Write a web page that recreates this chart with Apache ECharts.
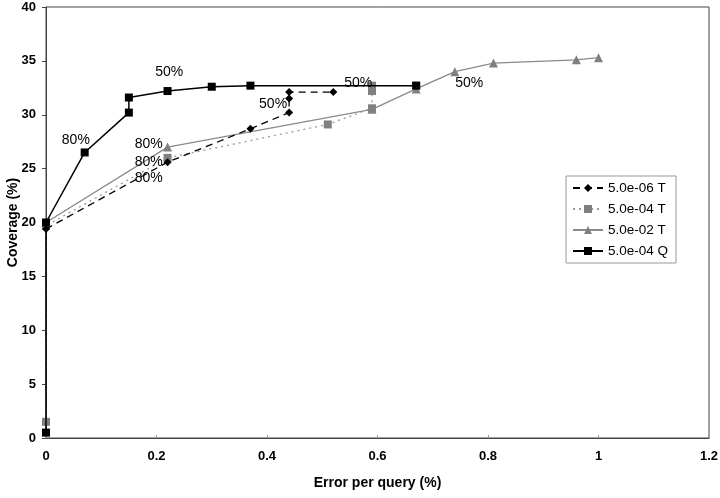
<!DOCTYPE html>
<html><head><meta charset="utf-8">
<script src="https://cdn.jsdelivr.net/npm/echarts@6/dist/echarts.min.js"></script>
<style>html,body{margin:0;padding:0;background:#fff}#c{width:720px;height:498px}</style>
</head><body><div id="c"></div>
<script>
const seriesNames = ["5.0e-06 T", "5.0e-04 T", "5.0e-02 T", "5.0e-04 Q"];
const s06T_x = [0, 0.22, 0.37, 0.44, 0.44, 0.44, 0.52];
const s06T_y = [19.4, 25.6, 28.7, 30.2, 31.5, 32.1, 32.1];
const s04T_x = [0, 0, 0.22, 0.51, 0.59, 0.59, 0.59, 0.67];
const s04T_y = [1.5, 19.7, 26.0, 29.1, 30.6, 32.2, 32.7, 32.7];
const s02T_x = [0, 0.22, 0.59, 0.67, 0.74, 0.81, 0.96, 1.0];
const s02T_y = [20.0, 27.0, 30.5, 32.4, 34.0, 34.8, 35.1, 35.3];
const s04Q_x = [0, 0, 0.07, 0.15, 0.15, 0.22, 0.30, 0.37, 0.67];
const s04Q_y = [0.5, 20.0, 26.5, 30.2, 31.6, 32.2, 32.6, 32.7, 32.7];
const annText = ["80%", "50%", "80%", "80%", "80%", "50%", "50%", "50%"];
const annX = [0.054, 0.223, 0.186, 0.186, 0.186, 0.411, 0.565, 0.766];
const annY = [27.6, 34.0, 27.3, 25.6, 24.1, 31.0, 32.9, 32.9];
const xTicks = {min: 0, max: 1.2, interval: 0.2};
const yTicks = {min: 0, max: 40, interval: 5};

const zip = (xs, ys) => xs.map((x, i) => [x, ys[i]]);
const font = "Liberation Sans, Arial, sans-serif";
const chart = echarts.init(document.getElementById('c'));
chart.setOption({
  animation: false,
  backgroundColor: '#fff',
  grid: {left: 46, right: 11, top: 7, bottom: 60, containLabel: false, outerBoundsMode: 'none',
         show: true, borderColor: '#444', borderWidth: 1},
  legend: {
    orient: 'vertical', left: 566, top: 176,
    data: seriesNames,
    itemWidth: 30, itemHeight: 10, itemGap: 7,
    padding: [5, 8, 5, 6],
    borderColor: '#999', borderWidth: 1, backgroundColor: '#fff',
    textStyle: {fontFamily: font, fontSize: 13.5, color: '#000'}
  },
  xAxis: {
    type: 'value', min: xTicks.min, max: xTicks.max, interval: xTicks.interval,
    name: 'Error per query (%)', nameLocation: 'middle', nameGap: 38, nameMoveOverlap: false,
    nameTextStyle: {fontFamily: font, fontSize: 14, fontWeight: 'bold', color: '#000'},
    axisLine: {lineStyle: {color: '#444'}},
    axisTick: {show: true, inside: true, length: 3, lineStyle: {color: '#999'}},
    axisLabel: {fontFamily: font, fontSize: 13, fontWeight: 'bold', color: '#000', margin: 12},
    splitLine: {show: false}
  },
  yAxis: {
    type: 'value', min: yTicks.min, max: yTicks.max, interval: yTicks.interval,
    name: 'Coverage (%)', nameLocation: 'middle', nameGap: 26, nameRotate: 90, nameMoveOverlap: false,
    nameTextStyle: {fontFamily: font, fontSize: 14, fontWeight: 'bold', color: '#000'},
    axisLine: {show: true, lineStyle: {color: '#444'}},
    axisTick: {show: true, length: 4, lineStyle: {color: '#444'}},
    axisLabel: {fontFamily: font, fontSize: 13, fontWeight: 'bold', color: '#000', margin: 10},
    splitLine: {show: false}
  },
  series: [
    {name: seriesNames[0], type: 'line', data: zip(s06T_x, s06T_y), z: 4,
     symbol: 'diamond', symbolSize: 8, itemStyle: {color: '#000'},
     lineStyle: {color: '#000', width: 1.3, type: [7, 5]}},
    {name: seriesNames[1], type: 'line', data: zip(s04T_x, s04T_y), z: 2,
     symbol: 'rect', symbolSize: 8, itemStyle: {color: '#808080'},
     lineStyle: {color: '#999', width: 1.3, type: [2, 4]}},
    {name: seriesNames[2], type: 'line', data: zip(s02T_x, s02T_y), z: 3,
     symbol: 'triangle', symbolSize: 9, itemStyle: {color: '#808080'},
     lineStyle: {color: '#8a8a8a', width: 1.3}},
    {name: seriesNames[3], type: 'line', data: zip(s04Q_x, s04Q_y), z: 5,
     symbol: 'rect', symbolSize: 8, itemStyle: {color: '#000'},
     lineStyle: {color: '#000', width: 1.5}},
    {name: 'ann', type: 'scatter', data: zip(annX, annY).map((p, i) => ({value: p, label: {formatter: annText[i]}})),
     symbolSize: 1, silent: true, z: 6, itemStyle: {opacity: 0},
     label: {show: true, position: 'inside', fontFamily: font, fontSize: 14, color: '#000', opacity: 1}}
  ]
});
</script></body></html>
